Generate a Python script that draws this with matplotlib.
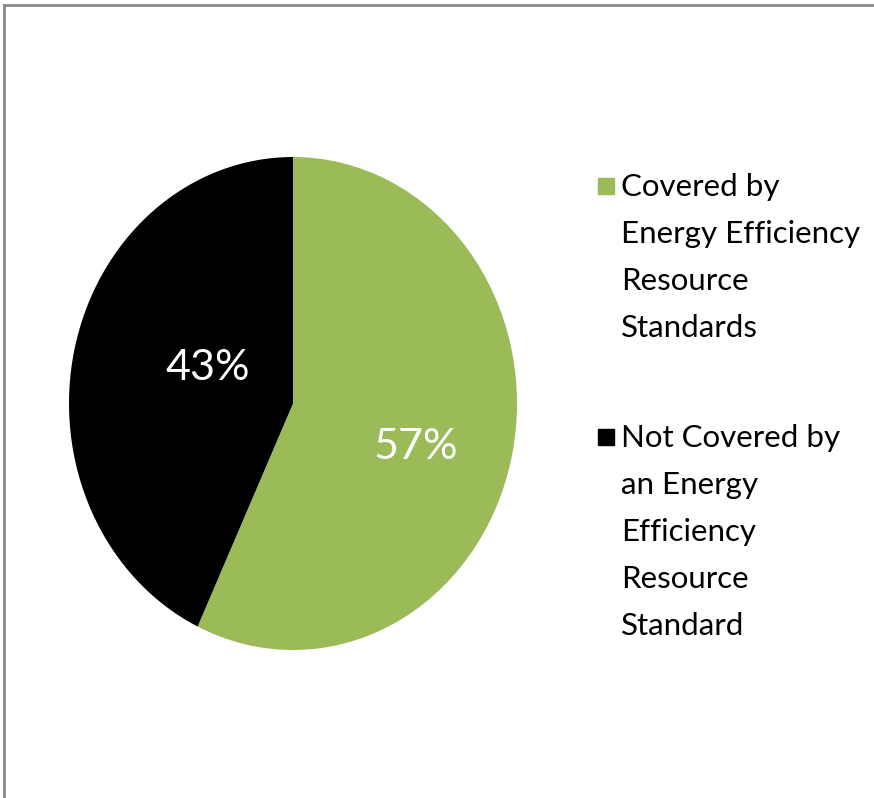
import matplotlib.pyplot as plt
from matplotlib.lines import Line2D
from matplotlib.patches import Rectangle

labels = ["Covered by\nEnergy Efficiency\nResource\nStandards",
          "Not Covered by\nan Energy\nEfficiency\nResource\nStandard"]
shares = [57, 43]
colors = ["#9BBB59", "#000000"]

plt.rcParams['font.family'] = ['Lato', 'DejaVu Sans']

W, H = 874, 798
fig = plt.figure(figsize=(W / 100, H / 100), dpi=100)

# pie is drawn a bit taller than wide, like the original
ax = fig.add_axes([69 / W, (H - 650) / H, 448 / W, 493 / H])
wedges, texts, autotexts = ax.pie(shares, colors=colors, startangle=90,
                                  counterclock=False, autopct='%d%%',
                                  textprops=dict(color='white', fontsize=31))
ax.set_aspect('auto')
ax.set_xlim(-1, 1)
ax.set_ylim(-1, 1)
# excel puts the labels off the radial line
autotexts[0].set_position((0.55, -0.175))
autotexts[1].set_position((-0.38, 0.142))

# legend, drawn by hand
tops = [186, 437]
for lab, col, y in zip(labels, colors, tops):
    fig.add_artist(Rectangle((598 / W, 1 - (y + 8) / H), 16 / W, 16 / H,
                             transform=fig.transFigure, color=col))
    fig.text(621 / W, 1 - (y - 13) / H, lab, fontsize=22.5, va='top',
             ha='left', linespacing=1.83)

# frame lines of the original
fig.add_artist(Line2D([4 / W, 1], [1 - 5 / H, 1 - 5 / H], color='#8a8a8a', lw=2))
fig.add_artist(Line2D([4 / W, 4 / W], [0, 1 - 5 / H], color='#8a8a8a', lw=2))

fig.savefig("out.png", dpi=100)
